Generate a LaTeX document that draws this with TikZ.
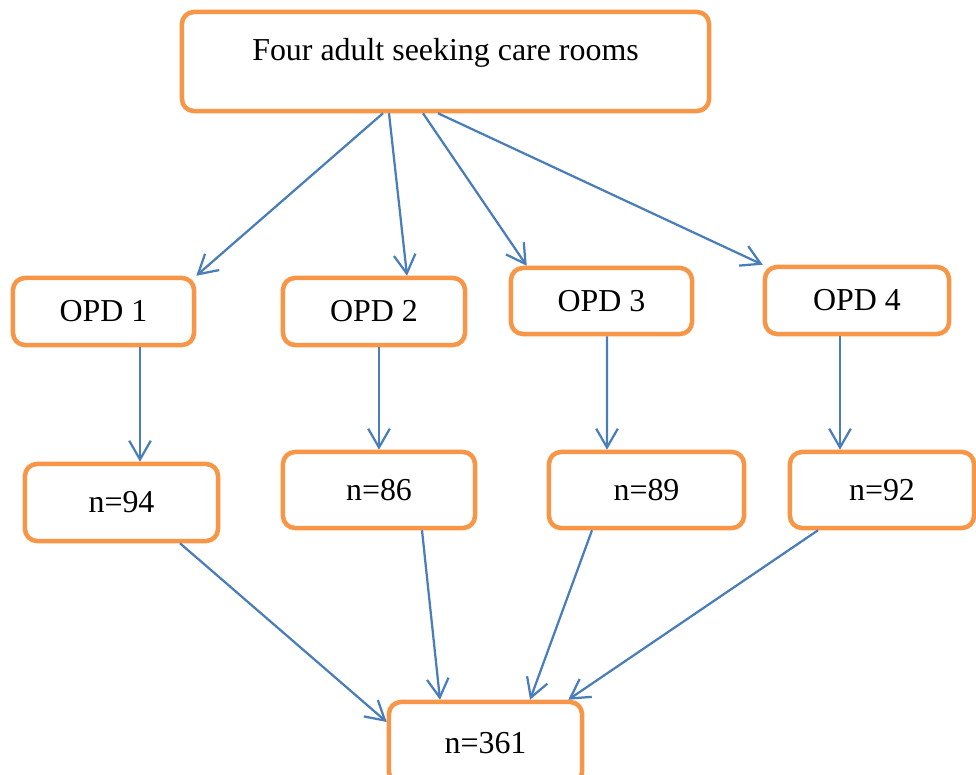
\documentclass[tikz,border=0pt]{standalone}
\usepackage{fontspec}
\setmainfont{Liberation Serif}
\usepackage{xcolor}
\usepackage{tikz}
\usetikzlibrary{calc, arrows.meta, positioning}

\definecolor{boxorange}{RGB}{247,150,70}
\definecolor{arrowblue}{RGB}{74,126,187}

\tikzset{
    stagebox/.style={draw=boxorange, line width=3.2pt, rounded corners=3mm,
        fill=white, inner sep=0pt, font=\fontsize{22.7}{27}\selectfont},
    flow/.style={draw=arrowblue, line width=1.6pt,
        -{Straight Barb[length=4.7mm, width=5.4mm]}}
}

\begin{document}
\begin{tikzpicture}[x=0.025cm, y=-0.025cm]
    \useasboundingbox (0,0) rectangle (976,775);

    % Ô trên cùng
    \node[stagebox, minimum width=13.175cm, minimum height=2.475cm,
          text height=0.55cm, text depth=0.6cm] (rooms) at (445.5,61.5)
          {Four adult seeking care rooms};

    % Các phòng khám
    \node[stagebox, minimum width=4.525cm, minimum height=1.675cm] (opd1) at (103.5,311.5) {OPD 1};
    \node[stagebox, minimum width=4.55cm,  minimum height=1.675cm] (opd2) at (374,311.5) {OPD 2};
    \node[stagebox, minimum width=4.525cm, minimum height=1.65cm]  (opd3) at (601.5,301) {OPD 3};
    \node[stagebox, minimum width=4.6cm,   minimum height=1.675cm] (opd4) at (857,300.5) {OPD 4};

    % Số người mỗi phòng
    \node[stagebox, minimum width=4.825cm, minimum height=1.925cm] (n1) at (121.5,502.5) {n=94};
    \node[stagebox, minimum width=4.8cm,   minimum height=1.9cm]   (n2) at (379,490) {n=86};
    \node[stagebox, minimum width=4.875cm, minimum height=1.9cm]   (n3) at (646.5,490) {n=89};
    \node[stagebox, minimum width=4.6cm,   minimum height=1.9cm]   (n4) at (882,490) {n=92};

    % Tổng
    \node[stagebox, minimum width=4.825cm, minimum height=2.05cm] (total) at (485.5,743) {n=361};

    % Mũi tên xuống các phòng
    \draw[flow] ($(rooms.south)+(-62.5,0)$) -- (opd1.north east);
    \draw[flow] ($(rooms.south)+(-56.5,0)$) -- ($(opd2.north)+(33,0)$);
    \draw[flow] ($(rooms.south)+(-22.5,0)$) -- ($(opd3.north west)+(18,0)$);
    \draw[flow] ($(rooms.south)+(-7.5,0)$) -- (opd4.north west);

    \draw[flow] ($(opd1.south)+(36.5,0)$) -- ($(n1.north)+(18.5,0)$);
    \draw[flow] ($(opd2.south)+(5,0)$) -- (n2.north);
    \draw[flow] ($(opd3.south)+(5.5,0)$) -- ($(n3.north)+(-39.5,0)$);
    \draw[flow] ($(opd4.south)+(-17,0)$) -- ($(n4.north)+(-42,0)$);

    % Gộp lại
    \draw[flow] ($(n1.south)+(58.5,0)$) -- ($(total.west)+(0,-21)$);
    \draw[flow] ($(n2.south)+(43,0)$) -- ($(total.north)+(-45.5,0)$);
    \draw[flow] ($(n3.south)+(-54.5,0)$) -- ($(total.north)+(44.5,0)$);
    \draw[flow] ($(n4.south)+(-64,0)$) -- ($(total.north east)+(-16,0)$);

\end{tikzpicture}
\end{document}
